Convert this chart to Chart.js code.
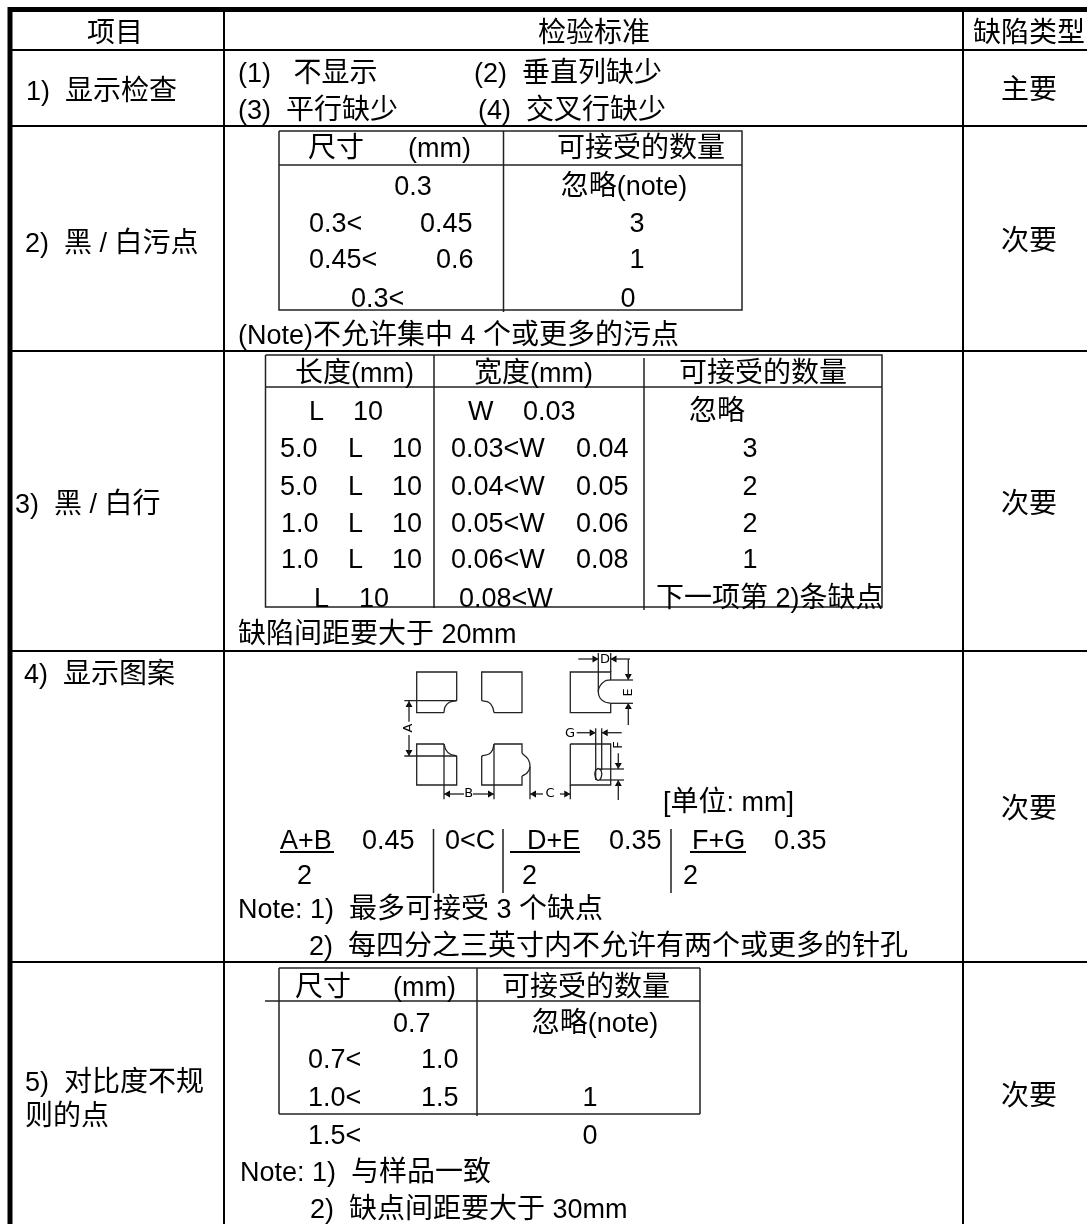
<!DOCTYPE html>
<html>
<head>
<meta charset="utf-8">
<script src="https://cdn.jsdelivr.net/npm/chart.js@4"></script>
<style>
  html, body { margin: 0; padding: 0; background: #fff; }
  canvas { display: block; }
</style>
</head>
<body>
<canvas id="sheet" width="1087" height="1224"></canvas>
<script>
// 表格文字
const headerTexts = ['项目', '检验标准', '缺陷类型'];
const row1Texts = ['1)  显示检查', '(1)   不显示', '(2)  垂直列缺少', '(3)  平行缺少', '(4)  交叉行缺少', '主要'];
const row2Texts = ['2)  黑 / 白污点', '尺寸', '(mm)', '可接受的数量', '0.3', '忽略(note)', '0.3<', '0.45', '3', '0.45<', '0.6', '1', '0.3<', '0', '(Note)不允许集中 4 个或更多的污点', '次要'];
const row3Texts = ['3)  黑 / 白行', '长度(mm)', '宽度(mm)', '可接受的数量',
    'L', '10', 'W', '0.03', '忽略',
    '5.0', 'L', '10', '0.03<W', '0.04', '3',
    '5.0', 'L', '10', '0.04<W', '0.05', '2',
    '1.0', 'L', '10', '0.05<W', '0.06', '2',
    '1.0', 'L', '10', '0.06<W', '0.08', '1',
    'L', '10', '0.08<W', '下一项第 2)条缺点',
    '缺陷间距要大于 20mm', '次要'];
const row4Texts = ['4)  显示图案', '[单位: mm]', 'A+B', '0.45', '0<C', 'D+E', '0.35', 'F+G', '0.35', '2', '2', '2',
    'Note: 1)  最多可接受 3 个缺点', '2)  每四分之三英寸内不允许有两个或更多的针孔', '次要'];
const row5Texts = ['5)  对比度不规', '则的点', '尺寸', '(mm)', '可接受的数量', '0.7', '忽略(note)', '0.7<', '1.0', '1.0<', '1.5', '1', '1.5<', '0',
    'Note: 1)  与样品一致', '2)  缺点间距要大于 30mm', '次要'];
const cadTexts = ['A', 'B', 'C', 'D', 'E', 'F', 'G'];

// 文字位置 [x, y, 对齐]
const headerSpots = [[115, 32, 'c'], [594, 32, 'c'], [1029, 32, 'c']];
const row1Spots = [[26, 90], [238, 72], [474, 72], [238, 109], [478, 109], [1029, 89, 'c']];
const row2Spots = [[25, 242], [308, 147], [408, 147], [641, 147, 'c'], [413, 185, 'c'], [624, 185, 'c'],
    [309, 222], [420, 222], [637, 222, 'c'], [309, 258], [436, 258], [637, 258, 'c'], [351, 297], [628, 297, 'c'], [238, 334], [1029, 240, 'c']];
const row3Spots = [[15, 503], [295, 372], [474, 372], [763, 372, 'c'],
    [309, 410], [353, 410], [468, 410], [523, 410], [717, 410, 'c'],
    [280, 447], [348, 447], [392, 447], [451, 447], [576, 447], [750, 447, 'c'],
    [280, 485], [348, 485], [392, 485], [451, 485], [576, 485], [750, 485, 'c'],
    [281, 522], [348, 522], [392, 522], [451, 522], [576, 522], [750, 522, 'c'],
    [281, 558], [348, 558], [392, 558], [451, 558], [576, 558], [750, 558, 'c'],
    [314, 597], [359, 597], [459, 597], [656, 597],
    [238, 633], [1029, 503, 'c']];
const row4Spots = [[24, 673], [663, 801], [280, 839], [362, 839], [445, 839], [527, 839], [609, 839], [692, 839], [774, 839],
    [297, 874], [522, 874], [683, 874], [238, 908], [309, 945], [1029, 808, 'c']];
const row5Spots = [[25, 1081], [25, 1115], [295, 986], [393, 986], [586, 986, 'c'], [393, 1022], [595, 1022, 'c'],
    [308, 1058], [421, 1058], [308, 1096], [421, 1096], [590, 1096, 'c'], [308, 1134], [590, 1134, 'c'],
    [240, 1171], [310, 1208], [1029, 1095, 'c']];
const cadSpots = [[409, 728, -90], [468.7, 794, 0], [550, 794, 0], [605, 659.3, 0], [628.3, 692.3, -90], [618.3, 745, -90], [570, 733.3, 0]];

// 表格线
const thickLines = [
    [[10, 7], [10, 1224]],
    [[8, 9.5], [1087, 9.5]]
];
const frameLines = [
    [[224, 9], [224, 1224]], [[963, 9], [963, 1224]],
    [[10, 50], [1087, 50]], [[10, 126], [1087, 126]], [[10, 351], [1087, 351]], [[10, 651], [1087, 651]], [[10, 962], [1087, 962]]
];
const innerLines = [
    // 表 1
    [[279, 131], [742, 131], [742, 310], [279, 310], [279, 131]],
    [[279, 165], [742, 165]], [[503.5, 131], [503.5, 312]],
    // 表 2
    [[265.5, 355], [882, 355], [882, 607], [265.5, 607], [265.5, 355]],
    [[265.5, 387], [882, 387]], [[434, 355], [434, 608]], [[644, 358], [644, 610]],
    // 表 3
    [[279, 968], [700, 968]], [[700, 968], [700, 1114]], [[279, 1114], [700, 1114]], [[279, 968], [279, 1114]],
    [[265, 1001], [700, 1001]], [[477, 968], [477, 1116]],
    // 公式分隔线
    [[433.5, 829], [433.5, 893]], [[503, 829], [503, 893]], [[671, 829], [671, 893]]
];
const fractionLines = [[[280, 852], [334, 852]], [[510, 852], [580, 852]], [[690, 852], [746, 852]]];

// 显示图案的示意图
const cadLines = [
    [[456.7, 700.7], [456.7, 672], [416.7, 672], [416.7, 712.7], [444, 712.7]],
    [[404.3, 700.7], [456.7, 700.7]],
    [[481.7, 700.7], [481.7, 672], [522, 672], [522, 712.7], [494, 712.7]],
    [[610.7, 680], [610.7, 672], [570.3, 672], [570.3, 712.7], [610.7, 712.7], [610.7, 703.3]],
    [[598.3, 653], [598.3, 691.7]], [[610.7, 653], [610.7, 672]],
    [[578.3, 659], [598.3, 659]], [[610.7, 659], [630, 659]],
    [[610.7, 680], [633, 680]], [[610.7, 703.3], [633, 703.3]],
    [[628.3, 659], [628.3, 680]], [[628.3, 703.3], [628.3, 725]],
    [[444, 744], [416.7, 744], [416.7, 785], [456.7, 785], [456.7, 756]],
    [[404.3, 756], [456.7, 756]], [[444, 744], [444, 799.3]],
    [[409, 700.7], [409, 721.7]], [[409, 735], [409, 756]],
    [[481.7, 756], [481.7, 785], [522, 785], [522, 776]],
    [[522, 753.3], [522, 744], [494, 744]],
    [[494, 744], [494, 799.3]], [[530, 766.7], [530, 799.3]],
    [[444, 794], [464, 794]], [[473, 794], [494, 794]],
    [[530, 794], [543, 794]], [[560, 794], [570.3, 794]],
    [[570.3, 744], [610.7, 744], [610.7, 785], [570.3, 785], [570.3, 744]],
    [[570.3, 785], [570.3, 799.3]],
    [[595.7, 728.3], [595.7, 780]], [[601.7, 728.3], [601.7, 770]],
    [[600, 769], [624, 769]], [[600, 780], [624, 780]],
    [[618.3, 753.3], [618.3, 769]], [[618.3, 780], [618.3, 800]],
    [[576.7, 732.7], [595.7, 732.7]], [[601.7, 732.7], [621.7, 732.7]]
];
const cadCurves = [
    [[444, 712.7], [445, 707], [449, 702.5], [456.7, 700.7]],
    [[494, 712.7], [492.5, 707], [489, 702.5], [481.7, 700.7]],
    [[610.7, 680], [605, 681], [600, 686], [598.3, 691.7], [600, 698], [605, 702], [610.7, 703.3]],
    [[456.7, 756], [450, 754], [446, 750], [444, 744]],
    [[522, 776], [527, 773], [530, 766.7], [528, 759], [522, 753.3]],
    [[494, 744], [492.5, 750], [489, 754], [481.7, 756]],
    [[598.3, 768.3], [601.3, 771], [601.3, 777], [598.3, 780.3], [595.3, 777], [595.3, 771], [598.3, 768.3]]
];
// 箭头 [x, y, 旋转角]
const cadArrows = [
    [594.5, 659, 90], [614.5, 659, 270],
    [628.3, 676, 180], [628.3, 707, 0],
    [409, 705, 0], [409, 752, 180],
    [448, 794, 270], [490, 794, 90],
    [534, 794, 270], [566.3, 794, 90],
    [591.7, 732.7, 90], [605.7, 732.7, 270],
    [618.3, 765, 180], [618.3, 784, 0]
];

function lineDataset(points, width, color, tension) {
    return {
        data: points.map(p => ({ x: p[0], y: p[1] })),
        showLine: true,
        borderWidth: width,
        borderColor: color,
        pointRadius: 0,
        tension: tension || 0
    };
}

const datasets = [];
thickLines.forEach(l => datasets.push(lineDataset(l, 5, '#000')));
frameLines.forEach(l => datasets.push(lineDataset(l, 2, '#000')));
innerLines.forEach(l => datasets.push(lineDataset(l, 1.5, '#222')));
fractionLines.forEach(l => datasets.push(lineDataset(l, 2, '#000')));
cadLines.forEach(l => datasets.push(lineDataset(l, 1.3, '#222')));
cadCurves.forEach(l => datasets.push(lineDataset(l, 1.3, '#222', 0.35)));
datasets.push({
    data: cadArrows.map(a => ({ x: a[0], y: a[1] })),
    showLine: false,
    pointStyle: 'triangle',
    pointRadius: 4,
    pointRotation: cadArrows.map(a => a[2]),
    backgroundColor: '#000',
    borderColor: '#000',
    borderWidth: 0
});

const latinFont = '27px "Liberation Sans", sans-serif';
const cjkFont = '28px "Noto Sans CJK SC", sans-serif';
const cadFont = '13px "DejaVu Sans", sans-serif';

// 中文和西文字号不同，分段画
function drawMixed(ctx, text, x, y, center) {
    const runs = text.split(/([\u4e00-\u9fff]+)/).filter(r => r.length);
    const widths = runs.map(r => {
        ctx.font = /[\u4e00-\u9fff]/.test(r) ? cjkFont : latinFont;
        return ctx.measureText(r).width;
    });
    let cur = center ? x - widths.reduce((a, b) => a + b, 0) / 2 : x;
    runs.forEach((r, i) => {
        ctx.font = /[\u4e00-\u9fff]/.test(r) ? cjkFont : latinFont;
        ctx.fillText(r, cur, y + 10);
        cur += widths[i];
    });
}

// 文字画在同一坐标系上
const sheetText = {
    id: 'sheetText',
    afterDatasetsDraw(chart) {
        const ctx = chart.ctx;
        const sx = chart.scales.x;
        const sy = chart.scales.y;
        ctx.save();
        ctx.fillStyle = '#000';
        ctx.textBaseline = 'alphabetic';
        ctx.textAlign = 'left';
        const groups = [
            [headerTexts, headerSpots], [row1Texts, row1Spots], [row2Texts, row2Spots],
            [row3Texts, row3Spots], [row4Texts, row4Spots], [row5Texts, row5Spots]
        ];
        groups.forEach(([texts, spots]) => {
            texts.forEach((t, i) => {
                drawMixed(ctx, t, sx.getPixelForValue(spots[i][0]), sy.getPixelForValue(spots[i][1]), spots[i][2] === 'c');
            });
        });
        ctx.font = cadFont;
        ctx.textAlign = 'center';
        ctx.textBaseline = 'middle';
        cadTexts.forEach((t, i) => {
            ctx.save();
            ctx.translate(sx.getPixelForValue(cadSpots[i][0]), sy.getPixelForValue(cadSpots[i][1]));
            ctx.rotate(cadSpots[i][2] * Math.PI / 180);
            ctx.fillText(t, 0, 0);
            ctx.restore();
        });
        ctx.restore();
    }
};

new Chart(document.getElementById('sheet').getContext('2d'), {
    type: 'scatter',
    data: { datasets },
    options: {
        responsive: false,
        animation: false,
        layout: { padding: 0, autoPadding: false },
        plugins: { legend: { display: false }, tooltip: { enabled: false } },
        scales: {
            x: { type: 'linear', min: 0, max: 1087, display: false },
            y: { type: 'linear', min: 0, max: 1224, reverse: true, display: false }
        }
    },
    plugins: [sheetText]
});
</script>
</body>
</html>
